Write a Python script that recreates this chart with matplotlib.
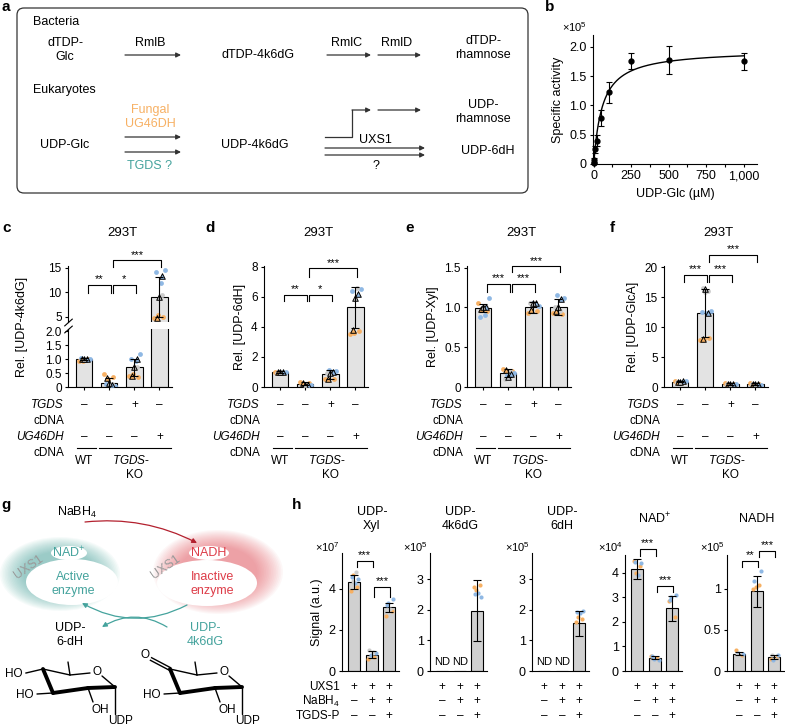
import numpy as np
import matplotlib.pyplot as plt
from matplotlib import transforms
from matplotlib.patches import FancyBboxPatch, Ellipse

plt.rcParams['font.family'] = ['Liberation Sans', 'DejaVu Sans']
plt.rcParams['font.size'] = 9
plt.rcParams['mathtext.fontset'] = 'custom'
plt.rcParams['mathtext.rm'] = 'Liberation Sans'
plt.rcParams['mathtext.it'] = 'Liberation Sans:italic'
plt.rcParams['mathtext.default'] = 'regular'
plt.rcParams['axes.linewidth'] = 0.8
for a in ('xtick', 'ytick'):
    plt.rcParams[a + '.major.width'] = 0.8
    plt.rcParams[a + '.minor.width'] = 0.8
    plt.rcParams[a + '.major.size'] = 2.5
    plt.rcParams[a + '.minor.size'] = 2.0
    plt.rcParams[a + '.major.pad'] = 2
    plt.rcParams[a + '.labelsize'] = 8.5

ORANGE = '#f7b063'
BLUE = '#8fb8e4'
GREY = '#cdcdcd'
TEAL = '#45a39d'
RED = '#dd3c48'
DARKRED = '#b3202e'
DOT_COLORS = [ORANGE, BLUE, GREY]
FS = 9      # general text
FS_ROW = 8.5

# ---- panel b: UXS1 kinetics
glc_conc = [0, 5, 10, 25, 50, 100, 250, 500, 1000]
spec_act = [0.02, 0.06, 0.25, 0.40, 0.78, 1.22, 1.76, 1.78, 1.75]
spec_err = [0.02, 0.04, 0.06, 0.10, 0.14, 0.18, 0.14, 0.24, 0.14]
vmax_fit = 1.95
km_fit = 57

# ---- panels c-f: means, s.d., dots (orange, blue, grey), replicate means (triangles)
c_mean = [1.0, 0.15, 0.70, 9.0]
c_sd = [0.04, 0.18, 0.30, 4.1]
c_dots = [[[0.95, 1.02, 0.93], [1.0, 1.05], [0.98]],
          [[0.45, 0.35, 0.28], [0.05, 0.10, 0.08], [0.12]],
          [[0.40, 0.35, 0.45], [1.20, 1.00, 0.95], [0.72]],
          [[4.8, 5.0, 5.3], [14.6, 14.2, 12.0], [9.5]]]
c_tri = [[1.0, 1.0, 1.0], [0.33, 0.08, 0.15], [0.38, 1.0, 0.72], [4.8, 13.4, 9.1]]

d_mean = [1.0, 0.2, 0.85, 5.3]
d_sd = [0.05, 0.1, 0.3, 1.35]
d_dots = [[[1.0, 0.95], [1.0, 0.98], [0.95]],
          [[0.30, 0.25], [0.10, 0.15], [0.05]],
          [[0.50, 0.55], [1.10, 1.05], [0.90]],
          [[3.5, 3.7, 3.6], [6.5, 6.4], [6.6]]]
d_tri = [[1.0, 1.0, 1.0], [0.25, 0.12, 0.1], [0.5, 1.0, 0.95], [3.8, 6.2, 5.9]]

e_mean = [0.99, 0.17, 1.0, 1.0]
e_sd = [0.05, 0.05, 0.07, 0.1]
e_dots = [[[1.05, 0.95, 0.97], [1.12, 0.88, 0.90], [1.0]],
          [[0.22, 0.20], [0.15, 0.17], [0.10, 0.20]],
          [[0.93, 0.95], [1.05, 1.02], [1.05]],
          [[0.93, 0.92], [1.15, 1.12], [1.0, 0.95]]]
e_tri = [[0.98, 1.0, 1.0], [0.21, 0.16, 0.13], [0.97, 1.05, 1.05], [0.95, 1.1, 1.0]]

f_mean = [0.9, 12.3, 0.5, 0.5]
f_sd = [0.1, 4.0, 0.1, 0.1]
f_dots = [[[1.0, 0.8], [0.9, 1.0], [0.85]],
          [[7.8, 8.2, 8.0], [12.7, 12.5, 12.3], [16.0, 16.5, 15.8]],
          [[0.6, 0.5], [0.4, 0.5], [0.5]],
          [[0.7, 0.5], [0.5, 0.4], [0.5]]]
f_tri = [[0.9, 0.95, 0.85], [8.0, 12.3, 16.3], [0.5, 0.5, 0.5], [0.5, 0.5, 0.5]]

tgds_cdna = ['–', '–', '+', '–']
ug46dh_cdna = ['–', '–', '–', '+']

# ---- panel h: signals in vitro
h_titles = ['UDP-\nXyl', 'UDP-\n4k6dG', 'UDP-\n6dH', 'NAD$^{+}$', 'NADH']
h_scale = ['×10$^{7}$', '×10$^{5}$', '×10$^{5}$', '×10$^{4}$', '×10$^{5}$']
h_mean = [[4.35, 0.8, 3.1], [0, 0, 1.97], [0, 0, 1.55], [4.15, 0.55, 2.55], [0.21, 0.97, 0.17]]
h_sd = [[0.35, 0.18, 0.22], [0, 0, 1.0], [0, 0, 0.4], [0.4, 0.07, 0.5], [0.02, 0.19, 0.02]]
h_dots = [
    [[[3.9, 4.1, 4.7], [4.5, 4.6, 4.3], [4.8, 4.4]],
     [[0.6, 0.7], [0.8, 0.9], [1.0, 0.95]],
     [[2.7, 2.9], [3.3, 3.5, 3.2], [3.0]]],
    [[[], [], []], [[], [], []], [[2.75, 2.8, 2.65], [2.4, 2.5, 2.55], []]],
    [[[], [], []], [[], [], []], [[1.6, 1.7, 1.75], [1.95, 1.93, 1.9], []]],
    [[[4.5, 4.3, 4.0], [4.4, 4.45, 3.9], []],
     [[0.6, 0.55], [0.5, 0.45, 0.6], []],
     [[2.85, 2.2], [3.0, 3.1, 2.9], []]],
    [[[0.25, 0.2], [0.22, 0.21], [0.2]],
     [[1.0, 1.05, 1.02], [1.22, 1.1], []],
     [[0.15, 0.18], [0.13, 0.2], [0.2]]],
]
h_nd = [[], [0, 1], [0, 1], [], []]
h_ylim = [5.75, 3.85, 3.85, 4.73, 1.41]
h_ticks = [[0, 2, 4], [0, 1, 2, 3], [0, 1, 2, 3], [0, 1, 2, 3, 4], [0, 0.5, 1]]
h_ticklabels = [['0', '2', '4'], ['0', '1', '2', '3'], ['0', '1', '2', '3'],
                ['0', '1', '2', '3', '4'], ['0', '0.5', '1']]
h_sig = [[(0, 1, 5.07, 5.37, '***'), (1, 2, 3.6, 4.1, '***')], [], [],
         [(0, 1, 4.7, 4.98, '***'), (1, 2, 3.22, 3.47, '***')],
         [(0, 1, 1.26, 1.34, '**'), (1, 2, 1.39, 1.46, '***')]]
uxs1_row = ['+', '+', '+']
nabh4_row = ['–', '+', '+']
tgdsp_row = ['–', '–', '+']

W, H = 785, 727
fig = plt.figure(figsize=(W / 100, H / 100), dpi=100)


def px_axes(x0, y0, x1, y1):
    # box given in pixels, y counted from the top
    return fig.add_axes([x0 / W, 1 - y1 / H, (x1 - x0) / W, (y1 - y0) / H])


ov = fig.add_axes([0, 0, 1, 1])
ov.set_xlim(0, W)
ov.set_ylim(H, 0)
ov.axis('off')


def txt(x, y, s, **kw):
    kw.setdefault('ha', 'center')
    kw.setdefault('va', 'center')
    kw.setdefault('fontsize', FS)
    ov.text(x, y, s, **kw)


def arrow(x1, y1, x2, y2, color='#333333', rad=0.0, lw=0.9):
    ov.annotate('', xy=(x2, y2), xytext=(x1, y1),
                arrowprops=dict(arrowstyle='-|>', color=color, lw=lw, shrinkA=0, shrinkB=0,
                                mutation_scale=7, connectionstyle='arc3,rad=%s' % rad))


def bt(ax):
    return transforms.blended_transform_factory(ax.transData, ov.transData)


for lab, x, y in [('a', 6, 7), ('b', 550, 7), ('c', 7, 228), ('d', 210, 228), ('e', 410, 228),
                  ('f', 612, 228), ('g', 6, 505), ('h', 297, 505)]:
    txt(x, y, lab, fontsize=11, fontweight='bold')

# ---- panel a
ov.add_patch(FancyBboxPatch((17, 8), 511, 185, boxstyle='round,pad=0,rounding_size=7',
                            fc='none', ec='#333333', lw=0.9))
txt(33, 22, 'Bacteria', ha='left')
txt(65, 50, 'dTDP-\nGlc', linespacing=1.3)
txt(150, 43, 'RmlB')
arrow(125, 55, 181, 55)
txt(258, 55, 'dTDP-4k6dG')
txt(347, 43, 'RmlC')
arrow(327, 55, 371, 55)
txt(397, 43, 'RmlD')
arrow(378, 55, 421, 55)
txt(483, 48, 'dTDP-\nrhamnose', linespacing=1.3)
txt(33, 90, 'Eukaryotes', ha='left')
txt(150, 117, 'Fungal\nUG46DH', color=ORANGE, linespacing=1.25)
txt(65, 145, 'UDP-Glc')
arrow(125, 137, 181, 137)
arrow(125, 152, 181, 152)
txt(150, 166, 'TGDS ?', color=TEAL)
txt(255, 145, 'UDP-4k6dG')
ov.plot([325, 352, 352], [137, 137, 110], color='#333333', lw=0.9)
arrow(352, 110, 371, 110)
arrow(378, 110, 421, 110)
txt(483, 112, 'UDP-\nrhamnose', linespacing=1.3)
txt(375, 140, 'UXS1')
arrow(325, 148, 425, 148)
arrow(325, 155, 425, 155)
txt(376, 166, '?')
txt(488, 151, 'UDP-6dH')

# ---- panel b
axb = px_axes(593, 35, 757, 164)
axb.errorbar(glc_conc, spec_act, yerr=spec_err, fmt='o', ms=3.5, color='black',
             elinewidth=0.8, capsize=2.5, capthick=0.8, clip_on=False, zorder=3)
s_fit = np.linspace(0, 1000, 400)
axb.plot(s_fit, vmax_fit * s_fit / (km_fit + s_fit), color='black', lw=1)
axb.set_xlim(-5, 1090)
axb.set_ylim(0, 2.2)
axb.spines[['top', 'right']].set_visible(False)
axb.set_xticks([0, 250, 500, 750, 1000], ['0', '250', '500', '750', '1,000'])
axb.set_xticks([125, 375, 625, 875], minor=True)
axb.set_yticks([0, 0.5, 1.0, 1.5, 2.0], ['0', '0.5', '1.0', '1.5', '2.0'])
axb.tick_params(labelsize=9)
axb.set_xlabel('UDP-Glc (µM)', fontsize=FS)
axb.set_ylabel('Specific activity', fontsize=FS)
txt(562, 27, '×10$^{5}$', ha='left', fontsize=8)
txt(620, 113, r'$\mathit{K}_{\rm m}$ = %d ± 15 µM' % km_fit, ha='left')

OFFS = [-0.2, 0.15, -0.05, 0.22, -0.15, 0.05, 0.1, -0.1, 0.0]


def draw_bars(ax, mean, sd, dots, tri=None, width=0.65, fc='#e3e3e3', s=12):
    x = np.arange(len(mean))
    ax.bar(x, mean, width, color=fc, edgecolor='black', linewidth=0.8, zorder=1)
    for i, groups in enumerate(dots):
        k = 0
        for col, g in zip(DOT_COLORS, groups):
            for v in g:
                ax.scatter(x[i] + OFFS[k % len(OFFS)], v, s=s, color=col, lw=0, zorder=2)
                k += 1
    if tri is not None:
        for i, t in enumerate(tri):
            for off, col, v in zip([-0.1, 0.1, 0.0], DOT_COLORS, t):
                ax.scatter(x[i] + off, v, s=16, marker='^', facecolor=col,
                           edgecolor='black', lw=0.7, zorder=3)
    keep = [i for i in x if sd[i] > 0]
    ax.errorbar([x[i] for i in keep], [mean[i] for i in keep], yerr=[sd[i] for i in keep],
                fmt='none', ecolor='black', elinewidth=0.8, capsize=3, capthick=0.8, zorder=4)


def style(ax, xlim, ylim, ticks, labels, n, xt=True):
    ax.set_xlim(*xlim)
    ax.set_ylim(*ylim)
    ax.spines[['top', 'right']].set_visible(False)
    ax.set_yticks(ticks, labels)
    if xt:
        ax.set_xticks(range(n), [''] * n)
    else:
        ax.set_xticks([])
    ax.patch.set_alpha(0)


def bracket(ax, i, j, y0, y1, stars, fs=8):
    ax.plot([i + 0.15, i + 0.15, j + 0.05, j + 0.05], [y0, y1, y1, y0], color='black',
            lw=0.8, clip_on=False)
    ax.annotate(stars, ((i + 0.15 + j + 0.05) / 2, y1), xytext=(0, 0.3),
                textcoords='offset points', ha='center', va='bottom', fontsize=fs,
                annotation_clip=False)


XL = (-0.65, 3.5)
# c: broken axis
axc = px_axes(68, 329, 172, 387)
axc2 = px_axes(68, 266, 172, 322)
for ax in (axc, axc2):
    draw_bars(ax, c_mean, c_sd, c_dots, c_tri)
style(axc, XL, (0, 2.08), [0, 0.5, 1.0, 1.5, 2.0], ['0', '0.5', '1.0', '1.5', '2.0'], 4)
style(axc2, XL, (3.9, 15.4), [5, 10, 15], ['5', '10', '15'], 4, xt=False)
axc2.spines['bottom'].set_visible(False)
for ax, yy in ((axc, 1), (axc2, 0)):
    ax.plot([0], [yy], transform=ax.transAxes, marker=[(-1, -0.9), (1, 0.9)], ms=6,
            mew=0.8, color='black', clip_on=False)
bracket(axc2, 0, 1, 9.9, 11.5, '**')
bracket(axc2, 1, 2, 9.9, 11.5, '*')
bracket(axc2, 1, 3, 15.2, 16.6, '***')
txt(22, 327, 'Rel. [UDP-4k6dG]', rotation=90)

axd = px_axes(264, 266, 368, 387)
draw_bars(axd, d_mean, d_sd, d_dots, d_tri)
style(axd, XL, (0, 8.05), [0, 2, 4, 6, 8], ['0', '2', '4', '6', '8'], 4)
bracket(axd, 0, 1, 5.7, 6.15, '**')
bracket(axd, 1, 2, 5.7, 6.15, '*')
bracket(axd, 1, 3, 7.35, 7.9, '***')
axd.set_ylabel('Rel. [UDP-6dH]', fontsize=FS)

axe = px_axes(467, 266, 571, 387)
draw_bars(axe, e_mean, e_sd, e_dots, e_tri)
style(axe, XL, (0, 1.52), [0, 0.5, 1.0, 1.5], ['0', '0.5', '1.0', '1.5'], 4)
bracket(axe, 0, 1, 1.19, 1.30, '***')
bracket(axe, 1, 2, 1.19, 1.30, '***')
bracket(axe, 1, 3, 1.44, 1.52, '***')
axe.set_ylabel('Rel. [UDP-Xyl]', fontsize=FS)

axf = px_axes(664, 266, 768, 387)
draw_bars(axf, f_mean, f_sd, f_dots, f_tri)
style(axf, XL, (0, 20.2), [0, 5, 10, 15, 20], ['0', '5', '10', '15', '20'], 4)
bracket(axf, 0, 1, 17.5, 18.7, '***')
bracket(axf, 1, 2, 17.5, 18.7, '***')
bracket(axf, 1, 3, 20.8, 22.1, '***')
axf.set_ylabel('Rel. [UDP-GlcA]', fontsize=FS)

for ax, left in ((axc, 68), (axd, 264), (axe, 467), (axf, 664)):
    t = bt(ax)
    txt(left - 4, 405, 'TGDS', ha='right', style='italic', fontsize=FS_ROW)
    txt(left - 4, 421, 'cDNA', ha='right', fontsize=FS_ROW)
    txt(left - 4, 437, 'UG46DH', ha='right', style='italic', fontsize=FS_ROW)
    txt(left - 4, 453, 'cDNA', ha='right', fontsize=FS_ROW)
    for i in range(4):
        ax.text(i, 405, tgds_cdna[i], transform=t, ha='center', va='center', fontsize=FS_ROW)
        ax.text(i, 437, ug46dh_cdna[i], transform=t, ha='center', va='center', fontsize=FS_ROW)
    ax.plot([-0.3, 0.45], [448, 448], transform=t, color='black', lw=0.8, clip_on=False)
    ax.plot([0.6, 3.45], [448, 448], transform=t, color='black', lw=0.8, clip_on=False)
    ax.text(0, 461, 'WT', transform=t, ha='center', va='center', fontsize=FS_ROW)
    ax.text(1.85, 461, r'$\mathit{TGDS}$-', transform=t, ha='center', va='center', fontsize=FS_ROW)
    ax.text(2.0, 475, 'KO', transform=t, ha='center', va='center', fontsize=FS_ROW)
    ax.text(1.5, 233, '293T', transform=t, ha='center', va='center', fontsize=9.5)


# ---- panel g
def glow(cx, cy, w, h, color, n=16):
    for k in range(n):
        f = 1 - 0.42 * k / n
        ov.add_patch(Ellipse((cx, cy), w * f, h * f, color=color, alpha=0.045, lw=0))


glow(60, 574, 120, 74, TEAL)
ov.add_patch(Ellipse((72, 582), 92, 46, color='white', lw=0))
glow(218, 572, 130, 84, '#e5505c')
ov.add_patch(Ellipse((207, 583), 100, 46, color='white', lw=0))
ov.add_patch(Ellipse((69, 553), 36, 14, color='white', lw=0))
ov.add_patch(Ellipse((209, 553), 40, 14, color='white', lw=0))
txt(69, 553, 'NAD$^{+}$', color=TEAL)
txt(209, 553, 'NADH', color=RED)
txt(29, 567, 'UXS1', color='#9a9a9a', rotation=35)
txt(166, 567, 'UXS1', color='#9a9a9a', rotation=35)
txt(73, 584, 'Active\nenzyme', color=TEAL, linespacing=1.25)
txt(212, 584, 'Inactive\nenzyme', color=RED, linespacing=1.25)
txt(77, 512, 'NaBH$_{4}$')
arrow(85, 522, 197, 543, color=DARKRED, rad=-0.15)
arrow(187, 605, 82, 603, color=TEAL, rad=-0.27)
arrow(167, 627, 102, 627, color=TEAL, rad=0.3)
txt(70, 635, 'UDP-\n6-dH', linespacing=1.25)
txt(205, 635, 'UDP-\n4k6dG', color=TEAL, linespacing=1.25)


def chair(dx, ketone):
    thin = [((43, 669), (70, 675)), ((70, 675), (90, 673)), ((102, 676), (115, 687)),
            ((70, 675), (68, 662)), ((88, 688), (93, 702)), ((115, 687), (115, 714)),
            ((53, 693), (37, 694))]
    thick = [((43, 669), (53, 693)), ((53, 693), (88, 688)), ((88, 688), (115, 687))]
    for (x1, y1), (x2, y2) in thin:
        ov.plot([x1 + dx, x2 + dx], [y1, y2], color='black', lw=1.0, solid_capstyle='round')
    for (x1, y1), (x2, y2) in thick:
        ov.plot([x1 + dx, x2 + dx], [y1, y2], color='black', lw=2.8, solid_capstyle='round')
    if ketone:
        for o in (-1.3, 1.3):
            ov.plot([43 + dx + o * 0.45, 24 + dx + o * 0.45], [669 - o, 659 - o], color='black', lw=1.0)
        txt(18 + dx, 655, 'O', fontsize=8.5)
    else:
        ov.plot([43 + dx, 26 + dx], [669, 673], color='black', lw=1.0)
        txt(14 + dx, 674, 'HO', fontsize=8.5)
    txt(97 + dx, 672, 'O', fontsize=8.5)
    txt(25 + dx, 695, 'HO', fontsize=8.5)
    txt(100 + dx, 710, 'OH', fontsize=8.5)
    txt(121 + dx, 721, 'UDP', fontsize=8.5)


chair(0, False)
chair(127, True)

# ---- panel h
h_left = [342, 430, 532, 625, 727]
h_top = [553, 553, 553, 555, 555]
axh = []
for k in range(5):
    ax = px_axes(h_left[k], h_top[k], h_left[k] + 57, 671)
    draw_bars(ax, h_mean[k], h_sd[k], h_dots[k], width=0.7, fc='#d0d0d0', s=9)
    style(ax, (-0.7, 2.55), (0, h_ylim[k]), h_ticks[k], h_ticklabels[k], 3, xt=False)
    ax.tick_params(labelsize=9)
    for i, j, y0, y1, st in h_sig[k]:
        bracket(ax, i, j, y0, y1, st)
    t = bt(ax)
    for i in h_nd[k]:
        ax.text(i, 0.03 * h_ylim[k], 'ND', ha='center', va='bottom', fontsize=8)
    ax.text(1, 519, h_titles[k], transform=t, ha='center', va='center', fontsize=FS,
            linespacing=1.25)
    txt(h_left[k] - 2, 547, h_scale[k], ha='right', fontsize=8)
    for i in range(3):
        ax.text(i, 687, uxs1_row[i], transform=t, ha='center', va='center', fontsize=FS_ROW)
        ax.text(i, 701, nabh4_row[i], transform=t, ha='center', va='center', fontsize=FS_ROW)
        ax.text(i, 716, tgdsp_row[i], transform=t, ha='center', va='center', fontsize=FS_ROW)
    axh.append(ax)
axh[0].set_ylabel('Signal (a.u.)', fontsize=FS)
txt(340, 687, 'UXS1', ha='right', fontsize=FS_ROW)
txt(340, 701, 'NaBH$_{4}$', ha='right', fontsize=FS_ROW)
txt(340, 716, 'TGDS-P', ha='right', fontsize=FS_ROW)

fig.savefig('out.png', dpi=100)
